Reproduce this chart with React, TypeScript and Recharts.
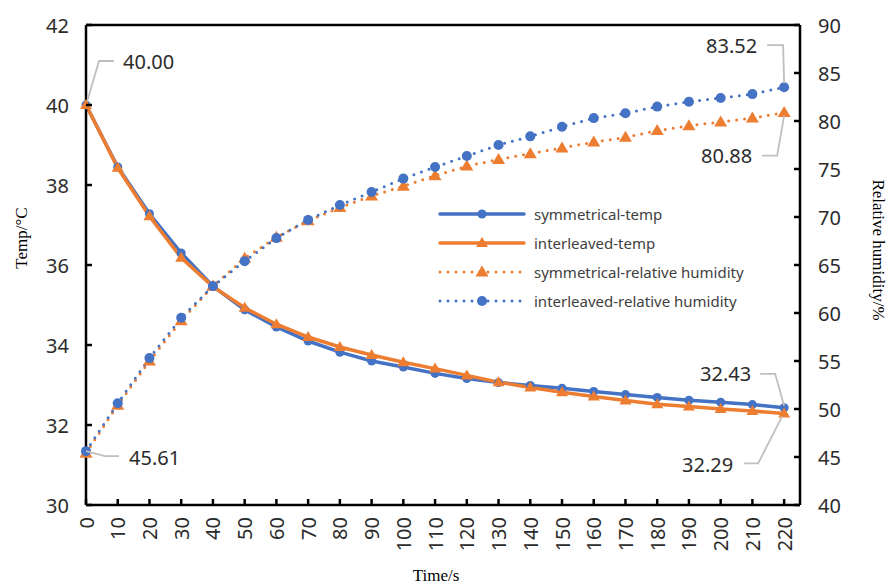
import React from "react";
import { LineChart, Line, XAxis, YAxis, Legend, ReferenceLine } from "recharts";

// time axis (s)
const times = [0, 10, 20, 30, 40, 50, 60, 70, 80, 90, 100, 110, 120, 130, 140, 150, 160, 170, 180, 190, 200, 210, 220];
// temperature (°C)
const symTemp = [40.0, 38.45, 37.28, 36.3, 35.47, 34.88, 34.45, 34.1, 33.82, 33.6, 33.45, 33.29, 33.16, 33.06, 32.99, 32.92, 32.84, 32.76, 32.69, 32.62, 32.57, 32.51, 32.43];
const intTemp = [40.0, 38.43, 37.22, 36.18, 35.46, 34.93, 34.52, 34.2, 33.95, 33.75, 33.57, 33.41, 33.24, 33.07, 32.94, 32.82, 32.71, 32.61, 32.52, 32.46, 32.4, 32.35, 32.29];
// relative humidity (%)
const symRh = [45.4, 50.4, 55.0, 59.2, 62.8, 65.7, 67.9, 69.6, 71.0, 72.2, 73.2, 74.3, 75.3, 76.0, 76.6, 77.2, 77.8, 78.3, 79.0, 79.5, 79.9, 80.3, 80.88];
const intRh = [45.61, 50.6, 55.3, 59.5, 62.8, 65.4, 67.8, 69.7, 71.25, 72.6, 74.0, 75.2, 76.35, 77.5, 78.4, 79.4, 80.3, 80.8, 81.5, 82.0, 82.4, 82.8, 83.52];

const tempTicks = [30, 32, 34, 36, 38, 40, 42];
const rhTicks = [40, 45, 50, 55, 60, 65, 70, 75, 80, 85, 90];
const legendOrder = ["symTemp", "intTemp", "symRh", "intRh"];

const BLUE = "#4472C4";
const ORANGE = "#ED7D31";
const LEADER = "#BFBFBF";
const TICK_COLOR = "#2b2b2b";
const SANS = "'Noto Sans', 'Liberation Sans', sans-serif";
const SERIF = "'Liberation Serif', 'DejaVu Serif', serif";

const data = times.map((t, i) => ({
  time: t,
  symTemp: symTemp[i],
  intTemp: intTemp[i],
  symRh: symRh[i],
  intRh: intRh[i],
}));

type Note = {
  index: number;
  text: string;
  leader: number[][]; // offsets from the point
  at: number[];
  anchor: "start" | "end";
};

const marker = (shape: string, cx: number, cy: number, color: string, r: number) =>
  shape === "circle" ? (
    <circle cx={cx} cy={cy} r={r} fill={color} />
  ) : (
    <path
      d={`M${cx},${cy - r - 1.5}L${cx - r - 1.5},${cy + r - 0.5}L${cx + r + 1.5},${cy + r - 0.5}Z`}
      fill={color}
    />
  );

function makeDot(shape: string, color: string, r: number, notes: Note[] = []) {
  return (props: any) => {
    const { cx, cy, index } = props;
    const note = notes.find((n) => n.index === index);
    return (
      <g key={`dot-${index}`}>
        {marker(shape, cx, cy, color, r)}
        {note && (
          <g>
            <polyline
              points={note.leader.map(([dx, dy]) => `${cx + dx},${cy + dy}`).join(" ")}
              fill="none"
              stroke={LEADER}
              strokeWidth={1.8}
            />
            <text
              x={cx + note.at[0]}
              y={cy + note.at[1]}
              textAnchor={note.anchor}
              dominantBaseline="central"
              fontFamily={SANS}
              fontSize={20}
              fill={TICK_COLOR}
            >
              {note.text}
            </text>
          </g>
        )}
      </g>
    );
  };
}

const symTempNotes: Note[] = [
  { index: 0, text: "40.00", leader: [[1, -3], [13, -44], [28, -44]], at: [37, -44], anchor: "start" },
  { index: 22, text: "32.43", leader: [[0, -2], [-9, -34], [-24, -34]], at: [-33, -34], anchor: "end" },
];
const intTempNotes: Note[] = [
  { index: 22, text: "32.29", leader: [[-2, 3], [-26, 50], [-40, 50]], at: [-51, 51], anchor: "end" },
];
const symRhNotes: Note[] = [
  { index: 22, text: "80.88", leader: [[0, 3], [-7, 43], [-22, 43]], at: [-32, 43], anchor: "end" },
];
const intRhNotes: Note[] = [
  { index: 0, text: "45.61", leader: [[0, 0], [19, 5], [33, 5]], at: [43, 6], anchor: "start" },
  { index: 22, text: "83.52", leader: [[0, -4], [-1, -42], [-17, -42]], at: [-27, -42], anchor: "end" },
];

const seriesStyle: Record<string, { color: string; dotted: boolean; shape: string }> = {
  symTemp: { color: BLUE, dotted: false, shape: "circle" },
  intTemp: { color: ORANGE, dotted: false, shape: "triangle" },
  symRh: { color: ORANGE, dotted: true, shape: "triangle" },
  intRh: { color: BLUE, dotted: true, shape: "circle" },
};

const LeftTick = (props: any) => {
  const { x, y, payload } = props;
  return (
    <g>
      <line x1={x + 17} x2={x + 23} y1={y} y2={y} stroke="#000" strokeWidth={2.5} />
      <text x={x} y={y} textAnchor="end" dominantBaseline="central" fontFamily={SANS} fontSize={20} fill={TICK_COLOR}>
        {payload.value}
      </text>
    </g>
  );
};

const RightTick = (props: any) => {
  const { x, y, payload } = props;
  return (
    <g>
      <line x1={x - 18} x2={x - 24} y1={y} y2={y} stroke="#000" strokeWidth={2.5} />
      <text x={x} y={y} textAnchor="start" dominantBaseline="central" fontFamily={SANS} fontSize={20} fill={TICK_COLOR}>
        {payload.value}
      </text>
    </g>
  );
};

const BottomTick = (props: any) => {
  const { x, y, payload } = props;
  return (
    <g>
      <line x1={x} x2={x} y1={y - 12} y2={y - 18} stroke="#000" strokeWidth={2.5} />
      <text
        x={x}
        y={y}
        transform={`rotate(-90 ${x} ${y})`}
        textAnchor="end"
        dominantBaseline="central"
        fontFamily={SANS}
        fontSize={20}
        fill={TICK_COLOR}
      >
        {payload.value}
      </text>
    </g>
  );
};

const renderLegend = (props: any) => {
  const { payload = [] } = props;
  const items = [...payload].sort(
    (a: any, b: any) => legendOrder.indexOf(a.dataKey) - legendOrder.indexOf(b.dataKey)
  );
  return (
    <div style={{ fontFamily: SANS, fontSize: 15, color: "#404040" }}>
      {items.map((entry: any) => {
        const st = seriesStyle[entry.dataKey];
        if (!st) return null;
        return (
          <div key={entry.dataKey} style={{ height: 29, display: "flex", alignItems: "center" }}>
            <svg width={88} height={14} style={{ flex: "none" }}>
              <line
                x1={2}
                x2={86}
                y1={7}
                y2={7}
                stroke={st.color}
                strokeWidth={st.dotted ? 3 : 3.5}
                strokeDasharray={st.dotted ? "0 8" : undefined}
                strokeLinecap="round"
              />
              {marker(st.shape, 44, 7, st.color, st.dotted ? 5 : 4.5)}
            </svg>
            <span style={{ marginLeft: 8, whiteSpace: "nowrap" }}>{entry.value}</span>
          </div>
        );
      })}
    </div>
  );
};

export default function App() {
  return (
    <div style={{ position: "absolute", left: 0, top: 0, width: 888, height: 586, background: "#fff" }}>
      <LineChart width={888} height={586} data={data} margin={{ top: 25, right: 0, left: 0, bottom: 0 }}>
        <XAxis
          dataKey="time"
          type="number"
          domain={[0, 225]}
          ticks={times}
          interval={0}
          height={81}
          tickSize={0}
          tickMargin={12}
          tick={<BottomTick />}
          axisLine={{ stroke: "#000", strokeWidth: 2.5 }}
          label={{
            content: (p: any) => {
              const vb = p.viewBox || { x: 86, y: 505, width: 714, height: 81 };
              return (
                <text x={vb.x + vb.width / 2 - 7} y={vb.y + 70} textAnchor="middle" dominantBaseline="central" fontFamily={SERIF} fontSize={17} fill="#000">
                  Time/s
                </text>
              );
            },
          }}
        />
        <YAxis
          yAxisId="t"
          orientation="left"
          domain={[30, 42]}
          ticks={tempTicks}
          interval={0}
          width={86}
          tickSize={0}
          tickMargin={17}
          tick={<LeftTick />}
          axisLine={{ stroke: "#000", strokeWidth: 2.5 }}
          label={{
            content: (p: any) => {
              const vb = p.viewBox || { x: 0, y: 25, width: 86, height: 480 };
              const x = vb.x + 21;
              const y = vb.y + vb.height / 2 - 27;
              return (
                <text x={x} y={y} transform={`rotate(-90 ${x} ${y})`} textAnchor="middle" dominantBaseline="central" fontFamily={SERIF} fontSize={17} fill="#000">
                  Temp/°C
                </text>
              );
            },
          }}
        />
        <YAxis
          yAxisId="rh"
          orientation="right"
          domain={[40, 90]}
          ticks={rhTicks}
          interval={0}
          width={88}
          tickSize={0}
          tickMargin={18}
          tick={<RightTick />}
          axisLine={{ stroke: "#000", strokeWidth: 2.5 }}
          label={{
            content: (p: any) => {
              const vb = p.viewBox || { x: 800, y: 25, width: 88, height: 480 };
              const x = vb.x + 78;
              const y = vb.y + vb.height / 2 - 15;
              return (
                <text x={x} y={y} transform={`rotate(90 ${x} ${y})`} textAnchor="middle" dominantBaseline="central" fontFamily={SERIF} fontSize={17} fill="#000">
                  Relative humidity/%
                </text>
              );
            },
          }}
        />
        <ReferenceLine yAxisId="t" y={42} stroke="#000" strokeWidth={2.5} />
        <Legend
          layout="vertical"
          align="center"
          verticalAlign="middle"
          content={renderLegend}
          wrapperStyle={{ left: 438, top: 199, width: 340 }}
        />
        <Line
          yAxisId="t"
          dataKey="symTemp"
          name="symmetrical-temp"
          stroke={BLUE}
          strokeWidth={3.5}
          dot={makeDot("circle", BLUE, 4.5, symTempNotes)}
          isAnimationActive={false}
        />
        <Line
          yAxisId="t"
          dataKey="intTemp"
          name="interleaved-temp"
          stroke={ORANGE}
          strokeWidth={3.5}
          dot={makeDot("triangle", ORANGE, 4.5, intTempNotes)}
          isAnimationActive={false}
        />
        <Line
          yAxisId="rh"
          dataKey="symRh"
          name="symmetrical-relative humidity"
          stroke={ORANGE}
          strokeWidth={3}
          strokeDasharray="0 8"
          strokeLinecap="round"
          dot={makeDot("triangle", ORANGE, 5, symRhNotes)}
          isAnimationActive={false}
        />
        <Line
          yAxisId="rh"
          dataKey="intRh"
          name="interleaved-relative humidity"
          stroke={BLUE}
          strokeWidth={3}
          strokeDasharray="0 8"
          strokeLinecap="round"
          dot={makeDot("circle", BLUE, 5, intRhNotes)}
          isAnimationActive={false}
        />
      </LineChart>
    </div>
  );
}
